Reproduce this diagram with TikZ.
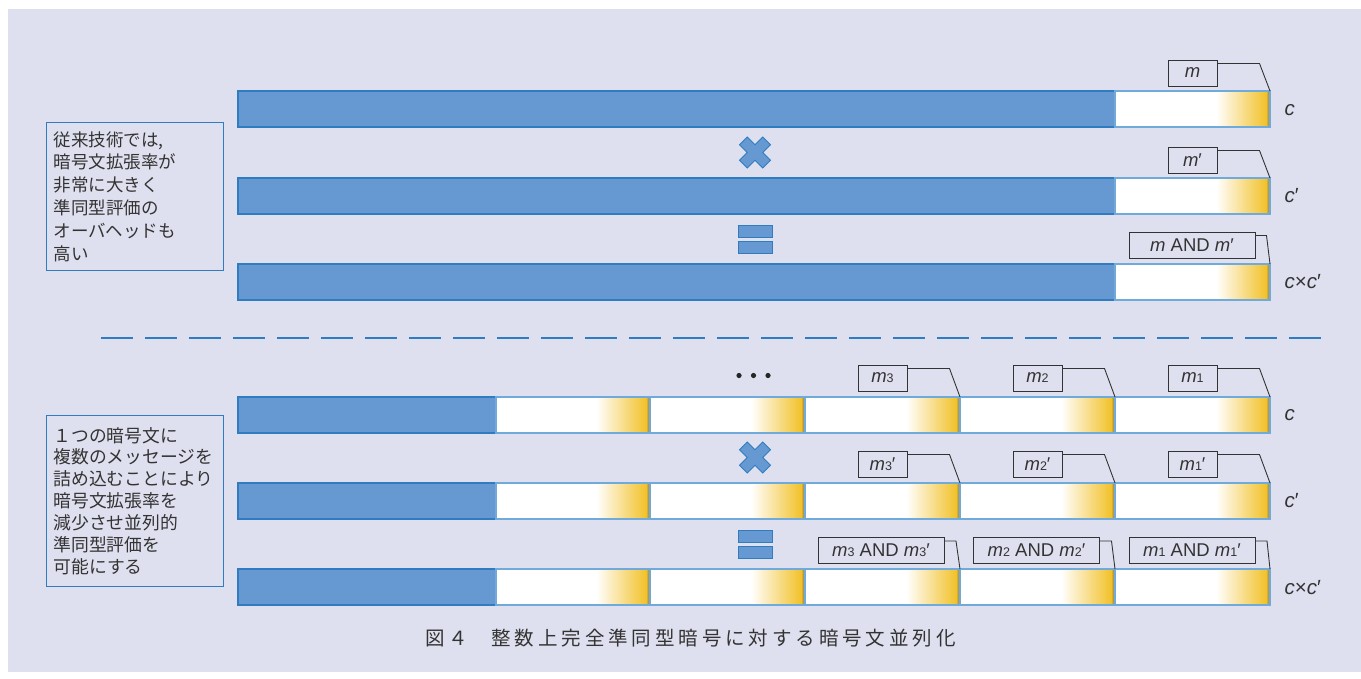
\documentclass[tikz,border=0pt]{standalone}
\usepackage{fontspec}
\setmainfont{Liberation Sans}
\newfontfamily\jp{Noto Sans CJK JP}
\newfontfamily\jpcap[LetterSpace=20]{Noto Sans CJK JP}
\usetikzlibrary{calc}
\definecolor{bg}{HTML}{DFE0EF}
\definecolor{barblue}{HTML}{6699D1}
\definecolor{bluedge}{HTML}{2F7DC0}
\definecolor{segedge}{HTML}{6FAADB}
\definecolor{gold}{HTML}{F2C22C}
\definecolor{goldedge}{HTML}{7E7048}
\definecolor{txt}{HTML}{333333}
\newcommand\bluepart[2]{% x-end, y-top
  \fill[barblue] (238,#2) rectangle (#1,#2+36);
  \draw[bluedge,line width=1.3] (238,#2) rectangle (#1,#2+36);}
\newcommand\whiteseg[3]{% x1, x2, y-top
  \fill[white] (#1,#3) rectangle (#2,#3+36);
  \shade[left color=white,right color=gold] (#2-54,#3) rectangle (#2-4,#3+36);
  \shade[left color=gold,right color=goldedge] (#2-4,#3) rectangle (#2,#3+36);
  \draw[segedge,line width=1.3] (#1,#3) rectangle (#2,#3+36);}
\newcommand\crossmark[2]{%
  \begin{scope}[shift={(#1,#2)},rotate=45]
  \filldraw[fill=barblue,draw=bluedge,line width=0.9]
    (-5.5,-16.4) -- (5.5,-16.4) -- (5.5,-5.5) -- (16.4,-5.5) -- (16.4,5.5) -- (5.5,5.5)
    -- (5.5,16.4) -- (-5.5,16.4) -- (-5.5,5.5) -- (-16.4,5.5) -- (-16.4,-5.5) -- (-5.5,-5.5) -- cycle;
  \end{scope}}
\newcommand\equalsmark[1]{%
  \filldraw[fill=barblue,draw=bluedge,line width=0.9] (738,#1) rectangle (772,#1+12);
  \filldraw[fill=barblue,draw=bluedge,line width=0.9] (738,#1+16) rectangle (772,#1+28);}
\newcommand\mi[1]{\textit{#1}}
\newcommand\subn[1]{{\fontsize{12.5}{12.5}\selectfont #1}}
\tikzset{
  lbl/.style={draw=txt,line width=1,fill=bg,text=txt,minimum height=26,inner sep=1,
    font=\fontsize{18.5}{18.5}\selectfont},
  callout/.style={draw=txt,line width=0.9},
  side/.style={text=txt,anchor=west,font=\fontsize{20.5}{20.5}\selectfont},
  note/.style={draw=bluedge,line width=1,text=txt,align=left,anchor=north west,
    inner xsep=7,inner ysep=0,text width=163,minimum width=176},
  dashline/.style={draw=bluedge,line width=1.5,dash pattern=on 32 off 12}
}
\begin{document}
\begin{tikzpicture}[x=1pt,y=-1pt]
\useasboundingbox (0,0) rectangle (1361,678);
\fill[bg] (8,9) rectangle (1361,672);

% ---------- top section ----------
\foreach \yy in {91,178,264}{
  \bluepart{1115}{\yy}
  \whiteseg{1115}{1270}{\yy}
}
\coordinate (ta) at (1270,91);
\coordinate (tb) at (1270,178);
\coordinate (tc) at (1270,264);
\node[lbl,minimum width=49] (ma) at (1192.5,73) {\mi{m}};
\node[lbl,minimum width=49] (mb) at (1192.5,160) {\mi{m}′};
\node[lbl,minimum width=126] (mc) at (1192,245) {\mi{m} AND \mi{m}′};
\draw[callout] ($(ma.north east)+(0,4)$) -- ++(42,0) -- (ta);
\draw[callout] ($(mb.north east)+(0,4)$) -- ++(42,0) -- (tb);
\draw[callout] ($(mc.north east)+(0,4)$) -- ++(11,0) -- (tc);
\node[side] (ca) at (1281,110) {\mi{c}};
\node[side] (cb) at (1281,196) {\mi{c}′};
\node[side] (cc) at (1281,282) {\mi{c}×\mi{c}′};
\crossmark{755}{152.5}
\equalsmark{225}

\node[note,minimum height=148,font=\jp\fontsize{17.5}{22.8}\selectfont] (note1) at (46,122)
 {従来技術では,\\暗号文拡張率が\\非常に大きく\\準同型評価の\\オーバヘッドも\\高い};

% ---------- separator ----------
\coordinate (d1) at (101,338);
\coordinate (d2) at (1322,338);
\draw[dashline] (d1) -- (d2);

% ---------- bottom section ----------
\foreach \yy in {397,483,569}{
  \bluepart{496}{\yy}
  \whiteseg{496}{650}{\yy}
  \whiteseg{650}{805}{\yy}
  \whiteseg{805}{960}{\yy}
  \whiteseg{960}{1115}{\yy}
  \whiteseg{1115}{1270}{\yy}
}
\foreach \xx in {739,753.5,768}{\fill[black!85] (\xx,375.5) circle (2.6);}

\foreach \r/\yy in {a/397, b/483, c/569}{
  \coordinate (p3\r) at (960,\yy);
  \coordinate (p2\r) at (1115,\yy);
  \coordinate (p1\r) at (1270,\yy);
}
\node[lbl,minimum width=49] (n3a) at (882.5,378) {\mi{m}\subn{3}};
\node[lbl,minimum width=49] (n2a) at (1037.5,378) {\mi{m}\subn{2}};
\node[lbl,minimum width=49] (n1a) at (1192.5,378) {\mi{m}\subn{1}};
\node[lbl,minimum width=49] (n3b) at (882.5,464) {\mi{m}\subn{3}′};
\node[lbl,minimum width=49] (n2b) at (1037.5,464) {\mi{m}\subn{2}′};
\node[lbl,minimum width=49] (n1b) at (1192.5,464) {\mi{m}\subn{1}′};
\foreach \k in {1,2,3}{
  \draw[callout] ($(n\k a.north east)+(0,4)$) -- ++(42,0) -- (p\k a);
  \draw[callout] ($(n\k b.north east)+(0,4)$) -- ++(42,0) -- (p\k b);
}
\node[lbl,minimum width=126] (n3c) at (881,550.5) {\mi{m}\subn{3} AND \mi{m}\subn{3}′};
\node[lbl,minimum width=126] (n2c) at (1036.5,550.5) {\mi{m}\subn{2} AND \mi{m}\subn{2}′};
\node[lbl,minimum width=126] (n1c) at (1192,550.5) {\mi{m}\subn{1} AND \mi{m}\subn{1}′};
\foreach \k in {1,2,3}{
  \draw[callout] ($(n\k c.north east)+(0,4)$) -- ++(11.5,0) -- (p\k c);
}
\node[side] (cd) at (1281,415) {\mi{c}};
\node[side] (ce) at (1281,501) {\mi{c}′};
\node[side] (cf) at (1281,588) {\mi{c}×\mi{c}′};
\crossmark{755}{457.5}
\equalsmark{530}

\node[note,minimum height=171,font=\jp\fontsize{17.8}{21.9}\selectfont] (note2) at (46,415)
 {１つの暗号文に\\複数のメッセージを\\詰め込むことにより\\暗号文拡張率を\\減少させ並列的\\準同型評価を\\可能にする};

% ---------- caption ----------
\node[anchor=west,text=txt,font=\jpcap\fontsize{19.5}{19.5}\selectfont,inner sep=0] (cap) at (425,638)
 {図４\hspace{1.2em}整数上完全準同型暗号に対する暗号文並列化};
\end{tikzpicture}
\end{document}
